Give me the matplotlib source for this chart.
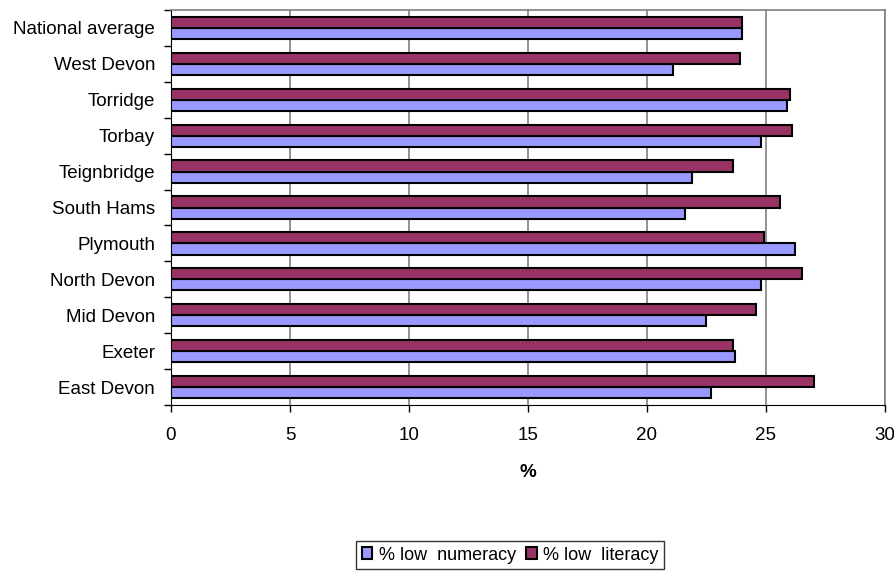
import numpy as np
import matplotlib
matplotlib.use("Agg")
import matplotlib.pyplot as plt

plt.rcParams['font.family'] = ['Liberation Sans', 'DejaVu Sans']

areas = ['East Devon', 'Exeter', 'Mid Devon', 'North Devon', 'Plymouth',
         'South Hams', 'Teignbridge', 'Torbay', 'Torridge', 'West Devon',
         'National average']
low_numeracy = [22.7, 23.7, 22.5, 24.8, 26.2, 21.6, 21.9, 24.8, 25.9, 21.1, 24.0]
low_literacy = [27.0, 23.6, 24.6, 26.5, 24.9, 25.6, 23.6, 26.1, 26.0, 23.9, 24.0]
x_ticks = [0, 5, 10, 15, 20, 25, 30]

fs = 13.5
fig = plt.figure(figsize=(8.95, 5.72), dpi=100)
ax = fig.add_axes([171 / 895, 1 - 405 / 572, 714 / 895, 395 / 572])

y = np.arange(len(areas))
h = 0.31
ax.barh(y - h / 2, low_numeracy, height=h, color='#9999FF', edgecolor='black',
        linewidth=1.5, label='% low  numeracy', zorder=3)
ax.barh(y + h / 2, low_literacy, height=h, color='#993366', edgecolor='black',
        linewidth=1.5, label='% low  literacy', zorder=3)

ax.set_xlim(0, 30)
ax.set_ylim(-0.5, len(areas) - 0.5)
ax.set_xticks(x_ticks)
ax.set_xticklabels([str(t) for t in x_ticks], fontsize=fs)
ax.xaxis.grid(True, color='#808080', linewidth=1.2, zorder=0)

# category labels centred, tick marks between categories
ax.set_yticks(y)
ax.set_yticklabels(areas, fontsize=fs)
ax.set_yticks(np.arange(len(areas) + 1) - 0.5, minor=True)
ax.tick_params(axis='y', which='major', length=0, pad=11.5)
ax.tick_params(axis='y', which='minor', length=5, color='black', width=1)
ax.tick_params(axis='x', length=5, color='black', width=1, pad=11)

ax.set_xlabel('%', fontsize=fs, fontweight='bold', labelpad=14)

for side in ['top', 'right']:
    ax.spines[side].set_color('#808080')
    ax.spines[side].set_linewidth(1.2)
ax.spines['left'].set_color('black')
ax.spines['bottom'].set_color('black')

leg = fig.legend(loc='center', bbox_to_anchor=(510 / 895, 1 - 555 / 572), ncol=2,
                 fontsize=13, frameon=True, fancybox=False, handlelength=0.6,
                 handleheight=0.6, handletextpad=0.35, columnspacing=0.55,
                 borderpad=0.3, borderaxespad=0.2)
leg.get_frame().set_edgecolor('black')
leg.get_frame().set_linewidth(1)

fig.savefig('out.png', dpi=100)
